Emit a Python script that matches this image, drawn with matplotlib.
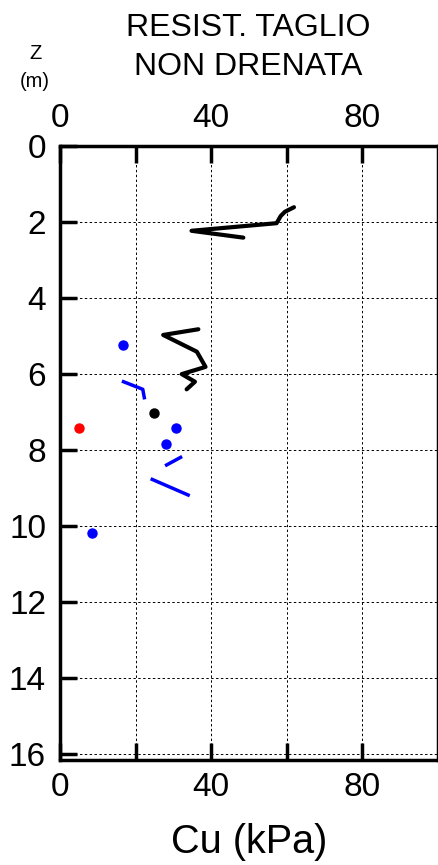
import matplotlib
matplotlib.use("Agg")
import matplotlib.pyplot as plt
from matplotlib.ticker import MultipleLocator, FixedLocator

plt.rcParams['font.family'] = ['Liberation Sans', 'DejaVu Sans']

# black trace, upper layer
top_cu = [61.9, 59.5, 58.4, 57.3, 34.8, 48.5]
top_z = [1.61, 1.73, 1.84, 2.03, 2.23, 2.41]

# black zigzag
zig_cu = [36.6, 27.3, 36.2, 38.5, 32.2, 35.7, 33.5]
zig_z = [4.82, 4.97, 5.41, 5.81, 6.00, 6.20, 6.40]

# blue segments
seg1_cu = [16.8, 21.9, 22.3]
seg1_z = [6.20, 6.40, 6.62]
seg2_cu = [28.2, 31.9]
seg2_z = [8.39, 8.19]
seg3_cu = [24.4, 33.9]
seg3_z = [8.77, 9.18]

# single points
blue_cu = [16.6, 30.7, 28.0, 8.5]
blue_z = [5.24, 7.42, 7.83, 10.18]
black_cu = [24.9]
black_z = [7.01]
red_cu = [5.0]
red_z = [7.43]

fig = plt.figure(figsize=(4.39, 8.65), dpi=100)
ax = fig.add_axes([0.1367, 0.1214, 0.8610, 0.7098])

ax.plot(top_cu, top_z, color='black', lw=3.0, solid_capstyle='round', solid_joinstyle='round')
ax.plot(zig_cu, zig_z, color='black', lw=3.0, solid_capstyle='round', solid_joinstyle='round')
for cu, z in [(seg1_cu, seg1_z), (seg2_cu, seg2_z), (seg3_cu, seg3_z)]:
    ax.plot(cu, z, color='blue', lw=2.5)
ax.plot(blue_cu, blue_z, 'o', color='blue', ms=6.5)
ax.plot(black_cu, black_z, 'o', color='black', ms=6.5)
ax.plot(red_cu, red_z, 'o', color='red', ms=6.5)

ax.set_xlim(0, 100)
ax.set_ylim(16.15, 0)

ax.xaxis.set_major_locator(FixedLocator([0, 40, 80]))
ax.xaxis.set_minor_locator(FixedLocator([20, 60]))
ax.yaxis.set_major_locator(MultipleLocator(2))

ax.tick_params(axis='x', which='both', direction='in', top=True, bottom=True,
               labeltop=True, labelbottom=True, length=12, width=2.5, labelsize=24, pad=9)
ax.tick_params(axis='y', which='major', direction='in', left=True, right=False,
               length=12, width=2.5, labelsize=24, pad=10)

ax.grid(True, which='both', axis='x', color='black', ls=(0, (2.5, 2.5)), lw=0.7)
ax.grid(True, which='major', axis='y', color='black', ls=(0, (2.5, 2.5)), lw=0.7)

for s in ax.spines.values():
    s.set_linewidth(2.5)

fig.text(0.565, 0.945, "RESIST. TAGLIO\nNON DRENATA", ha='center', va='center',
         fontsize=23, linespacing=1.4)
fig.text(0.08, 0.922, "Z\n(m)", ha='center', va='center', fontsize=14.5, linespacing=1.55)
ax.set_xlabel("Cu (kPa)", fontsize=28.5, labelpad=14)

fig.savefig("out.png", dpi=100)
